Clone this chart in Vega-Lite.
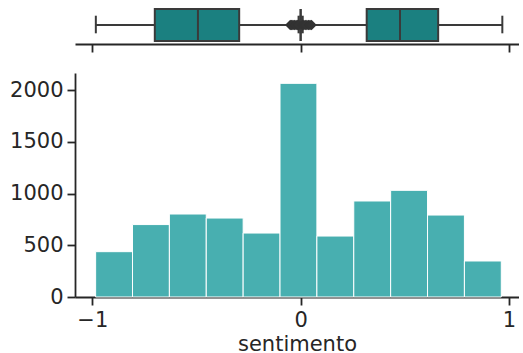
{
  "$schema": "https://vega.github.io/schema/vega-lite/v6.json",
  "padding": {"left": 9, "top": 0, "right": 0, "bottom": 0},
  "background": "white",
  "spacing": 20,
  "datasets": {
    "boxes": [
      {"grupo": "negativo", "lower": -0.983, "q1": -0.700, "median": -0.493, "q3": -0.295, "upper": -0.01},
      {"grupo": "neutro", "lower": 0.0, "q1": 0.0, "median": 0.0, "q3": 0.0, "upper": 0.0},
      {"grupo": "positivo", "lower": 0.01, "q1": 0.317, "median": 0.477, "q3": 0.660, "upper": 0.968}
    ],
    "outliers": [
      {"sentimento": -0.05}, {"sentimento": -0.044}, {"sentimento": -0.037}, {"sentimento": -0.03},
      {"sentimento": -0.022}, {"sentimento": -0.015}, {"sentimento": -0.008}, {"sentimento": 0.008},
      {"sentimento": 0.015}, {"sentimento": 0.022}, {"sentimento": 0.03}, {"sentimento": 0.038},
      {"sentimento": 0.045}, {"sentimento": 0.052}
    ],
    "hist": [
      {"bin_start": -0.984, "bin_end": -0.807, "count": 438},
      {"bin_start": -0.807, "bin_end": -0.630, "count": 700},
      {"bin_start": -0.630, "bin_end": -0.453, "count": 802},
      {"bin_start": -0.453, "bin_end": -0.276, "count": 763},
      {"bin_start": -0.276, "bin_end": -0.099, "count": 618},
      {"bin_start": -0.099, "bin_end": 0.078, "count": 2065},
      {"bin_start": 0.078, "bin_end": 0.255, "count": 589},
      {"bin_start": 0.255, "bin_end": 0.432, "count": 928},
      {"bin_start": 0.432, "bin_end": 0.609, "count": 1031},
      {"bin_start": 0.609, "bin_end": 0.786, "count": 792},
      {"bin_start": 0.786, "bin_end": 0.963, "count": 348}
    ]
  },
  "vconcat": [
    {
      "width": 444,
      "height": 44,
      "layer": [
        {
          "data": {"name": "boxes"},
          "mark": {"type": "rule", "color": "#3a3a3a", "strokeWidth": 2},
          "encoding": {
            "x": {"field": "lower", "type": "quantitative",
                  "scale": {"domain": [-1.083, 1.048], "nice": false, "zero": false},
                  "axis": {"values": [-1, 0, 1], "labels": false, "title": null}},
            "x2": {"field": "upper"},
            "y": {"datum": 0.432, "scale": {"domain": [0, 1]}, "axis": null}
          }
        },
        {
          "data": {"name": "boxes"},
          "mark": {"type": "rule", "color": "#3a3a3a", "strokeWidth": 2},
          "encoding": {
            "x": {"field": "lower", "type": "quantitative"},
            "y": {"datum": 0.243},
            "y2": {"datum": 0.643}
          }
        },
        {
          "data": {"name": "boxes"},
          "mark": {"type": "rule", "color": "#3a3a3a", "strokeWidth": 2},
          "encoding": {
            "x": {"field": "upper", "type": "quantitative"},
            "y": {"datum": 0.243},
            "y2": {"datum": 0.643}
          }
        },
        {
          "data": {"name": "boxes"},
          "mark": {"type": "rect", "fill": "#1b8080", "stroke": "#3a3a3a", "strokeWidth": 2},
          "encoding": {
            "x": {"field": "q1", "type": "quantitative"},
            "x2": {"field": "q3"},
            "y": {"datum": 0.068},
            "y2": {"datum": 0.795}
          }
        },
        {
          "data": {"name": "boxes"},
          "mark": {"type": "rule", "color": "#3a3a3a", "strokeWidth": 2},
          "encoding": {
            "x": {"field": "median", "type": "quantitative"},
            "y": {"datum": 0.068},
            "y2": {"datum": 0.795}
          }
        },
        {
          "data": {"name": "outliers"},
          "mark": {"type": "point", "shape": "diamond", "filled": true, "color": "#333333", "size": 110, "opacity": 1},
          "encoding": {
            "x": {"field": "sentimento", "type": "quantitative"},
            "y": {"datum": 0.432}
          }
        }
      ]
    },
    {
      "width": 444,
      "height": 224,
      "data": {"name": "hist"},
      "mark": {"type": "rect", "fill": "#48afb0", "stroke": "white", "strokeWidth": 1},
      "encoding": {
        "x": {"field": "bin_start", "type": "quantitative",
              "scale": {"domain": [-1.083, 1.048], "nice": false, "zero": false},
              "axis": {"values": [-1, 0, 1], "title": "sentimento", "format": "d"}},
        "x2": {"field": "bin_end"},
        "y": {"field": "count", "type": "quantitative",
              "scale": {"domain": [0, 2165], "nice": false},
              "axis": {"values": [0, 500, 1000, 1500, 2000], "title": null, "format": "d"}}
      }
    }
  ],
  "config": {
    "view": {"stroke": null},
    "font": "DejaVu Sans",
    "axis": {
      "grid": false,
      "domainColor": "#262626",
      "domainWidth": 1.8,
      "tickColor": "#262626",
      "tickWidth": 1.8,
      "tickSize": 8,
      "labelFont": "DejaVu Sans",
      "labelFontSize": 21,
      "labelColor": "#262626",
      "labelPadding": 4,
      "titleFont": "DejaVu Sans",
      "titleFontSize": 21,
      "titleFontWeight": "normal",
      "titleColor": "#262626",
      "titlePadding": 3
    }
  }
}
